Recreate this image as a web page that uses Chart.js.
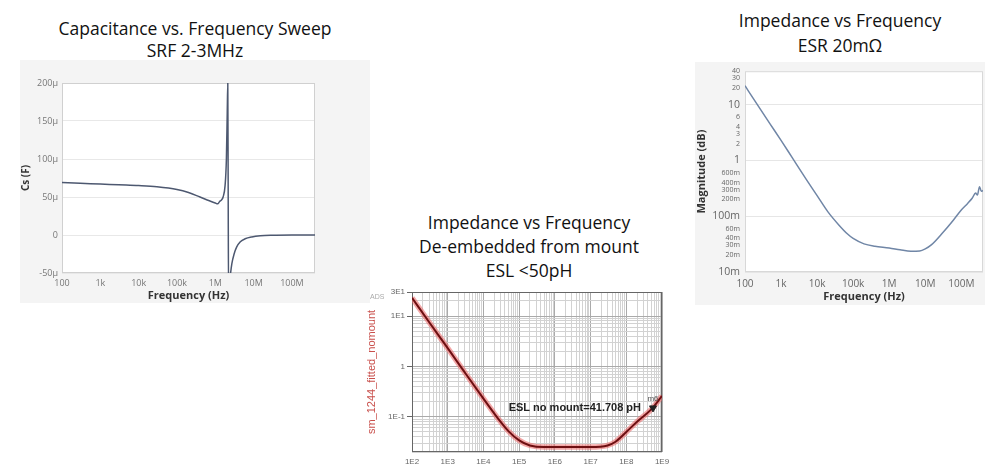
<!DOCTYPE html>
<html>
<head>
<meta charset="utf-8">
<script src="https://cdn.jsdelivr.net/npm/chart.js@4.4.1/dist/chart.umd.min.js"></script>
<style>
  body { margin: 0; width: 985px; height: 472px; background: #fff; position: relative; overflow: hidden; font-family: "Open Sans", sans-serif; }
  .title { position: absolute; text-align: center; color: #111; font-size: 17.5px; }
  .panel { position: absolute; }
  .ads { position: absolute; left: 370px; top: 293px; font: 7px "Liberation Sans", sans-serif; color: #aaa; }
</style>
</head>
<body>
<div class="title" style="left:35px;top:17px;width:320px;line-height:22px;">Capacitance vs. Frequency Sweep<br>SRF 2-3MHz</div>
<div class="title" style="left:369px;top:210px;width:320px;line-height:24px;">Impedance vs Frequency<br>De-embedded from mount<br>ESL &lt;50pH</div>
<div class="title" style="left:695px;top:8px;width:290px;line-height:25px;">Impedance vs Frequency<br>ESR 20m&Omega;</div>

<div class="panel" style="left:20px;top:60px;width:350px;height:243px;background:#f4f4f4;"><canvas id="capChart" width="350" height="243"></canvas></div>
<div class="panel" style="left:365px;top:285px;width:310px;height:187px;"><canvas id="eslChart" width="310" height="187"></canvas></div>
<div class="ads">ADS</div>
<div class="panel" style="left:695px;top:62px;width:290px;height:243px;background:#f4f4f4;"><canvas id="esrChart" width="290" height="243"></canvas></div>

<script>
// --- left: capacitance sweep (Cs in µF) ---
var capFreq = [100, 300, 1e3, 3e3, 1e4, 3e4, 1e5, 2e5, 4e5, 7e5, 1e6, 1.15e6, 1.3e6, 1.45e6, 1.6e6, 1.8e6, 1.95e6, 2.05e6, 2.12e6, 2.17e6, 2.22e6, 2.45e6, 2.7e6, 3.1e6, 3.6e6, 4.5e6, 6e6, 9e6, 1.5e7, 3e7, 1e8, 4e8];
var capValue = [69, 68, 67, 66, 65, 63.5, 60, 56, 50, 45, 42, 41, 44, 46, 50, 65, 100, 160, 200, 60, -80, -55, -38, -25, -16, -9, -5, -2.5, -1, -0.3, 0, 0];
var capYTicks = [-50, 0, 50, 100, 150, 200];
var capYLabels = ['-50\u00b5', '0', '50\u00b5', '100\u00b5', '150\u00b5', '200\u00b5'];

// frequency ticks shared by left and right charts
var freqTicks = [100, 1e3, 1e4, 1e5, 1e6, 1e7, 1e8];
var freqLabels = ['100', '1k', '10k', '100k', '1M', '10M', '100M'];

// --- middle: ADS impedance, de-embedded ---
var eslFreq = [1e2, 3e2, 1e3, 3e3, 1e4, 3e4, 5e4, 1e5, 2e5, 5e5, 1e6, 1e7, 3e7, 5e7, 1e8, 2e8, 5e8, 1e9];
var eslZ = [23, 7.6, 2.3, 0.76, 0.23, 0.08, 0.052, 0.034, 0.027, 0.025, 0.025, 0.025, 0.027, 0.032, 0.05, 0.08, 0.14, 0.26];
var eslMarkerF = 5.6e8;
var eslMarkerZ = 0.15;
var eslMarkerText = 'ESL no mount=41.708 pH';
var eslXMajor = [1e2, 1e3, 1e4, 1e5, 1e6, 1e7, 1e8, 1e9];
var eslXLabels = ['1E2', '1E3', '1E4', '1E5', '1E6', '1E7', '1E8', '1E9'];
var eslYMajor = [30, 10, 1, 0.1];
var eslYLabels = ['3E1', '1E1', '1', '1E-1'];

// --- right: impedance magnitude ---
var esrFreq = [100, 200, 500, 1e3, 2e3, 5e3, 1e4, 2e4, 4e4, 7e4, 1e5, 2e5, 4e5, 1e6, 2e6, 4e6, 7e6, 1e7, 1.5e7, 3e7, 6e7, 1e8, 1.5e8, 2e8, 2.5e8, 2.8e8, 3.2e8, 3.6e8, 4e8];
var esrZ = [22, 11, 4.5, 2.3, 1.15, 0.46, 0.235, 0.12, 0.07, 0.048, 0.04, 0.032, 0.029, 0.027, 0.025, 0.0235, 0.0238, 0.026, 0.031, 0.05, 0.085, 0.13, 0.17, 0.21, 0.26, 0.24, 0.34, 0.28, 0.29];
var esrYTicks = [0.01, 0.02, 0.03, 0.04, 0.06, 0.1, 0.2, 0.3, 0.4, 0.6, 1, 2, 3, 4, 6, 10, 20, 30, 40];
var esrYLabels = ['10m', '20m', '30m', '40m', '60m', '100m', '200m', '300m', '400m', '600m', '1', '2', '3', '4', '6', '10', '20', '30', '40'];
var esrYMajor = [0.01, 0.1, 1, 10];

function near(a, b) { return Math.abs(a - b) <= Math.abs(b) * 1e-6; }
function labelFor(v, vals, labels) {
    for (var i = 0; i < vals.length; i++) if (near(v, vals[i])) return labels[i];
    return '';
}
function pairs(xs, ys) { return xs.map(function (x, i) { return { x: x, y: ys[i] }; }); }
function logGrid(fromExp, toExp, lo, hi) {
    var out = [];
    for (var e = fromExp; e <= toExp; e++)
        for (var m = 1; m <= 9; m++) {
            var v = m * Math.pow(10, e);
            if (v >= lo * 0.999 && v <= hi * 1.001) out.push(v);
        }
    return out;
}

// white plot area + frame
const plotBox = {
    id: 'plotBox',
    beforeDraw(chart, args, opts) {
        const a = chart.chartArea, ctx = chart.ctx;
        ctx.save();
        ctx.fillStyle = opts.fill || '#fff';
        ctx.fillRect(a.left, a.top, a.right - a.left, a.bottom - a.top);
        ctx.restore();
    },
    beforeDatasetsDraw(chart, args, opts) {
        const a = chart.chartArea, ctx = chart.ctx;
        ctx.save();
        ctx.strokeStyle = opts.stroke || '#ccc';
        ctx.lineWidth = 1;
        ctx.strokeRect(a.left + 0.5, a.top + 0.5, a.right - a.left - 1, a.bottom - a.top - 1);
        ctx.restore();
    }
};
Chart.register(plotBox);
Chart.defaults.font.family = '"Open Sans", sans-serif';
Chart.defaults.animation = false;
Chart.defaults.plugins.legend.display = false;
Chart.defaults.plugins.tooltip.enabled = false;

new Chart(document.getElementById('capChart'), {
    type: 'line',
    data: {
        datasets: [{
            data: pairs(capFreq, capValue),
            borderColor: '#4d5870',
            borderWidth: 1.5,
            pointRadius: 0,
            cubicInterpolationMode: 'monotone'
        }]
    },
    options: {
        responsive: false,
        devicePixelRatio: 1,
        layout: { padding: { top: 23, right: 55, left: 0, bottom: 0 } },
        plugins: { plotBox: { fill: '#fff', stroke: '#d0d0d0' } },
        scales: {
            x: {
                type: 'logarithmic', min: 100, max: 4e8,
                afterBuildTicks: function (s) { s.ticks = freqTicks.map(function (v) { return { value: v }; }); },
                afterFit: function (s) { s.height = 30; },
                grid: { display: false, drawTicks: false },
                border: { display: false },
                ticks: {
                    color: '#777', font: { size: 9 }, padding: 5, maxRotation: 0, autoSkip: false,
                    callback: function (v) { return labelFor(v, freqTicks, freqLabels); }
                },
                title: { display: true, text: 'Frequency (Hz)', color: '#333', font: { size: 11, weight: 'bold' }, padding: { top: 0, bottom: 1 } }
            },
            y: {
                min: -50, max: 200,
                afterBuildTicks: function (s) { s.ticks = capYTicks.map(function (v) { return { value: v }; }); },
                afterFit: function (s) { s.width = 42; },
                grid: { color: '#e8e8e8', drawTicks: false },
                border: { display: false },
                ticks: {
                    color: '#777', font: { size: 9 }, padding: 4,
                    callback: function (v) { return labelFor(v, capYTicks, capYLabels); }
                },
                title: { display: true, text: 'Cs (F)', color: '#333', font: { size: 10, weight: 'bold' }, padding: { top: 0, bottom: 2 } }
            }
        }
    }
});

// marker + annotation for the ADS plot
const eslNote = {
    id: 'eslNote',
    afterDatasetsDraw(chart) {
        const ctx = chart.ctx;
        const px = chart.scales.x.getPixelForValue(eslMarkerF);
        const py = chart.scales.y.getPixelForValue(eslMarkerZ);
        ctx.save();
        ctx.fillStyle = '#222';
        ctx.font = 'bold 11px "Liberation Sans", sans-serif';
        ctx.textAlign = 'right';
        ctx.textBaseline = 'middle';
        ctx.fillText(eslMarkerText, px - 12, py);
        ctx.font = '8px "Liberation Sans", sans-serif';
        ctx.textAlign = 'center';
        ctx.fillStyle = '#555';
        ctx.fillText('m6', px, py - 9);
        ctx.restore();
    }
};

new Chart(document.getElementById('eslChart'), {
    type: 'line',
    data: {
        datasets: [{
            data: [{ x: eslMarkerF, y: eslMarkerZ }],
            showLine: false,
            pointStyle: 'triangle', rotation: 180, pointRadius: 4,
            backgroundColor: '#222', borderColor: '#222', borderWidth: 1
        }, {
            data: pairs(eslFreq, eslZ),
            borderColor: '#6e0f12',
            borderWidth: 2,
            pointRadius: 0,
            cubicInterpolationMode: 'monotone'
        }, {
            data: pairs(eslFreq, eslZ),
            borderColor: 'rgba(235,110,110,0.6)',
            borderWidth: 5.5,
            pointRadius: 0,
            cubicInterpolationMode: 'monotone'
        }]
    },
    options: {
        responsive: false,
        devicePixelRatio: 1,
        layout: { padding: { top: 7, right: 13, left: 0, bottom: 0 } },
        plugins: { plotBox: { fill: '#fff', stroke: '#666' } },
        scales: {
            x: {
                type: 'logarithmic', min: 1e2, max: 1e9,
                afterBuildTicks: function (s) { s.ticks = logGrid(2, 9, 1e2, 1e9).map(function (v) { return { value: v }; }); },
                afterFit: function (s) { s.height = 20; },
                grid: {
                    drawTicks: false,
                    color: function (c) { return labelFor(c.tick.value, eslXMajor, eslXLabels) ? '#aaa' : '#d2d2d2'; }
                },
                border: { display: false },
                ticks: {
                    color: '#666', font: { size: 8, family: '"Liberation Sans", sans-serif' }, padding: 5, maxRotation: 0, autoSkip: false,
                    callback: function (v) { return labelFor(v, eslXMajor, eslXLabels); }
                }
            },
            y: {
                type: 'logarithmic', min: 0.02, max: 30,
                afterBuildTicks: function (s) { s.ticks = logGrid(-2, 1, 0.02, 30).map(function (v) { return { value: v }; }); },
                afterFit: function (s) { s.width = 47; },
                grid: {
                    tickLength: 5,
                    color: function (c) { return labelFor(c.tick.value, eslYMajor, eslYLabels) ? '#aaa' : '#d2d2d2'; },
                    tickColor: function (c) { return labelFor(c.tick.value, eslYMajor, eslYLabels) ? '#666' : 'rgba(0,0,0,0)'; }
                },
                border: { display: false },
                ticks: {
                    color: '#666', font: { size: 8, family: '"Liberation Sans", sans-serif' }, padding: 2, autoSkip: false,
                    callback: function (v) { return labelFor(v, eslYMajor, eslYLabels); }
                },
                title: { display: true, text: 'sm_1244_fitted_nomount', color: '#c9504c', font: { size: 11, family: '"Liberation Sans", sans-serif' }, padding: { top: 0, bottom: 4 } }
            }
        }
    },
    plugins: [eslNote]
});

new Chart(document.getElementById('esrChart'), {
    type: 'line',
    data: {
        datasets: [{
            data: pairs(esrFreq, esrZ),
            borderColor: '#7086a6',
            borderWidth: 1.5,
            pointRadius: 0,
            cubicInterpolationMode: 'monotone'
        }]
    },
    options: {
        responsive: false,
        devicePixelRatio: 1,
        layout: { padding: { top: 3, right: 2, left: 0, bottom: 0 } },
        plugins: { plotBox: { fill: '#fff', stroke: '#d8d8d8' } },
        scales: {
            x: {
                type: 'logarithmic', min: 100, max: 4e8,
                afterBuildTicks: function (s) { s.ticks = freqTicks.map(function (v) { return { value: v }; }); },
                afterFit: function (s) { s.height = 33; },
                grid: { display: false, drawTicks: false },
                border: { display: false },
                ticks: {
                    color: '#666', font: { size: 10 }, padding: 6, maxRotation: 0, autoSkip: false,
                    callback: function (v) { return labelFor(v, freqTicks, freqLabels); }
                },
                title: { display: true, text: 'Frequency (Hz)', color: '#333', font: { size: 11, weight: 'bold' }, padding: { top: 0, bottom: 2 } }
            },
            y: {
                type: 'logarithmic', min: 0.01, max: 40,
                afterBuildTicks: function (s) { s.ticks = esrYTicks.map(function (v) { return { value: v }; }); },
                afterFit: function (s) { s.width = 50; },
                grid: {
                    drawTicks: false,
                    color: function (c) { return labelFor(c.tick.value, esrYMajor, esrYMajor) ? '#e6e6e6' : 'rgba(0,0,0,0)'; }
                },
                border: { display: false },
                ticks: {
                    color: '#666', padding: 5, autoSkip: false,
                    font: function (c) { return { size: (c.tick && labelFor(c.tick.value, esrYMajor, esrYMajor)) ? 10.5 : 7 }; },
                    callback: function (v) { return labelFor(v, esrYTicks, esrYLabels); }
                },
                title: { display: true, text: 'Magnitude (dB)', color: '#333', font: { size: 11, weight: 'bold' }, padding: { top: 0, bottom: 2 } }
            }
        }
    }
});
</script>
</body>
</html>
